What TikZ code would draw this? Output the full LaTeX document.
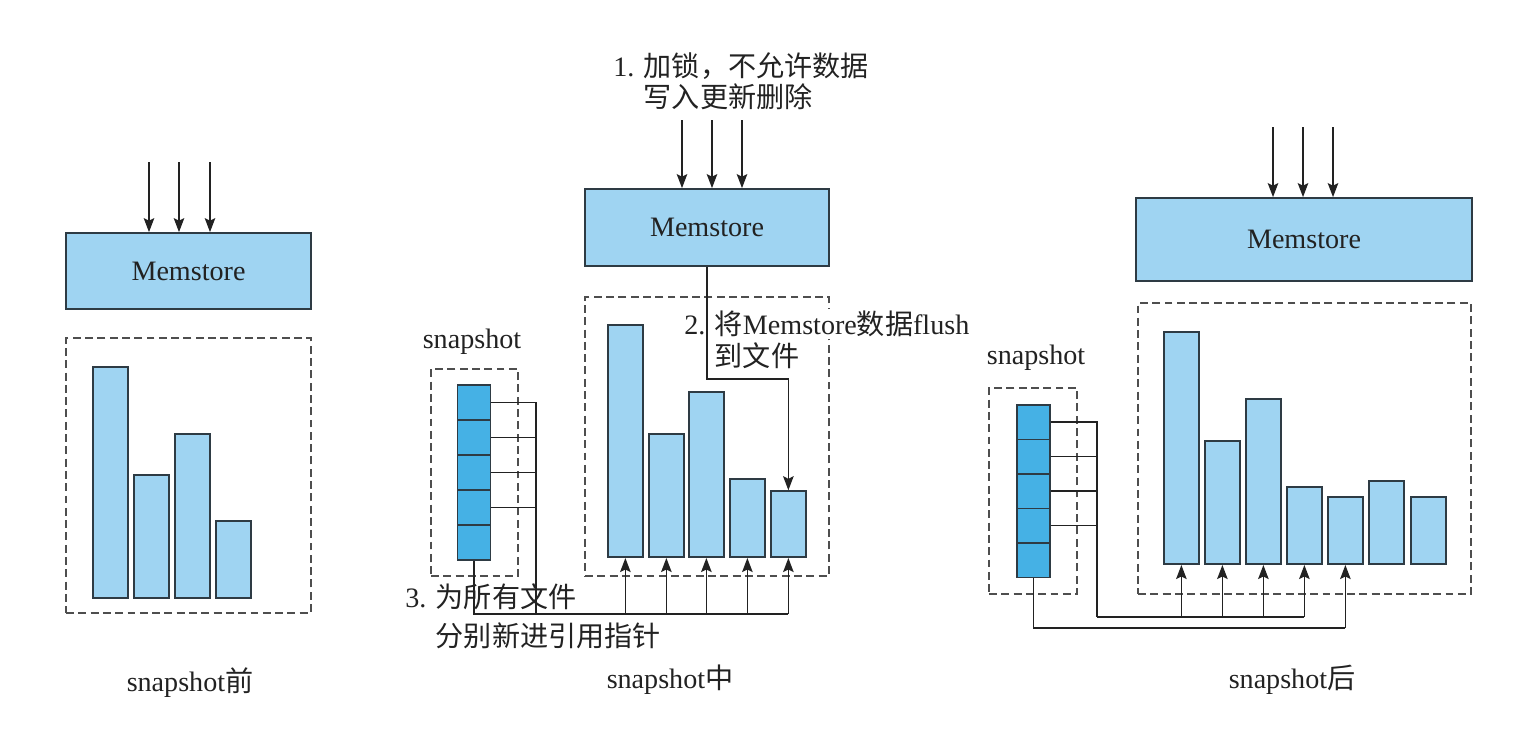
\documentclass[tikz,border=0pt]{standalone}
\usepackage{fontspec}
\setmainfont{Liberation Serif}
\newfontfamily\cjk{Noto Sans CJK SC}
\usetikzlibrary{arrows.meta,positioning}
\definecolor{pale}{HTML}{9FD4F2}
\definecolor{deep}{HTML}{45B1E5}
\definecolor{edge}{HTML}{2E3B44}
\definecolor{ink}{HTML}{222222}

\begin{document}
\begin{tikzpicture}[x=0.02cm,y=-0.02cm]
	\tikzstyle{memstore}=[draw=edge,fill=pale,line width=1pt,inner sep=0pt,font=\fontsize{16}{19}\selectfont,text=ink]
	\tikzstyle{bar}=[draw=edge,fill=pale,line width=1pt,inner sep=0pt,anchor=south west,minimum width=0.7cm]
	\tikzstyle{cell}=[draw=edge,fill=deep,line width=1pt,inner sep=0pt,anchor=north,minimum width=0.66cm,minimum height=0.7cm]
	\tikzstyle{dashbox}=[draw=ink!80,line width=0.9pt,dash pattern=on 4.5pt off 2.5pt,inner sep=0pt]
	\tikzstyle{feed}=[line width=0.9pt,draw=ink,-{Stealth[length=8pt,width=6pt,inset=1.5pt]}]
	\tikzstyle{link}=[line width=0.9pt,draw=ink]
	\tikzstyle{note}=[font=\fontsize{16}{18}\selectfont,text=ink,inner sep=0pt,align=left]

	\useasboundingbox (0,0) rectangle (1524,738);

	% snapshot before
	\node[memstore,minimum width=4.9cm,minimum height=1.52cm] (memL) at (188.5,271) {Memstore};
	\coordinate (inL1) at (149,162);
	\coordinate (inL2) at (179,162);
	\coordinate (inL3) at (210,162);
	\draw[feed] (inL1) -- (inL1 |- memL.north);
	\draw[feed] (inL2) -- (inL2 |- memL.north);
	\draw[feed] (inL3) -- (inL3 |- memL.north);
	\node[dashbox,minimum width=4.9cm,minimum height=5.5cm] (boxL) at (188.5,475.5) {};
	\node[bar,minimum height=4.62cm] (bL1) at (92,599) {};
	\node[bar,minimum height=2.46cm] (bL2) at (133,599) {};
	\node[bar,minimum height=3.28cm] (bL3) at (174,599) {};
	\node[bar,minimum height=1.54cm] (bL4) at (215,599) {};
	\node[note] (capL) at (190,683) {snapshot{\cjk 前}};

	% snapshot in progress
	\node[note,anchor=west,font=\fontsize{16}{17.5}\selectfont] (stepA) at (613,81) {1. {\cjk 加锁，不允许数据}\\\hphantom{1. }{\cjk 写入更新删除}};
	\node[memstore,minimum width=4.88cm,minimum height=1.54cm] (memM) at (707,227.5) {Memstore};
	\coordinate (inM1) at (682,120);
	\coordinate (inM2) at (712,120);
	\coordinate (inM3) at (742,120);
	\draw[feed] (inM1) -- (inM1 |- memM.north);
	\draw[feed] (inM2) -- (inM2 |- memM.north);
	\draw[feed] (inM3) -- (inM3 |- memM.north);
	\node[dashbox,minimum width=4.88cm,minimum height=5.58cm] (boxM) at (707,436.5) {};
	\node[bar,minimum height=4.64cm] (bM1) at (607,558) {};
	\node[bar,minimum height=2.46cm] (bM2) at (648,558) {};
	\node[bar,minimum height=3.30cm] (bM3) at (688,558) {};
	\node[bar,minimum height=1.56cm] (bM4) at (729,558) {};
	\node[bar,minimum height=1.32cm] (bM5) at (770,558) {};
	\node[note,anchor=west,fill=white,inner ysep=1pt] (flushA) at (684,324) {2. {\cjk 将}Memstore{\cjk 数据}flush};
	\node[note,anchor=west] (flushB) at (684,356) {\hphantom{2. }{\cjk 到文件}};
	\coordinate (bendM) at (707,379);
	\draw[feed] (memM.south) |- (bM5.north |- bendM) -- (bM5.north);

	\node[note] (snapM) at (472,342) {snapshot};
	\node[dashbox,minimum width=1.74cm,minimum height=4.14cm] (sboxM) at (474.5,472.5) {};
	\node[cell] (cM1) at (474,384) {};
	\node[cell] (cM2) at (474,419) {};
	\node[cell] (cM3) at (474,454) {};
	\node[cell] (cM4) at (474,489) {};
	\node[cell] (cM5) at (474,524) {};
	\coordinate (trunkM) at (536,614);
	\draw[link] (cM1.east) -| (trunkM);
	\draw[link] (cM2.east) -- (cM2.east -| trunkM);
	\draw[link] (cM3.east) -- (cM3.east -| trunkM);
	\draw[link] (cM4.east) -- (cM4.east -| trunkM);
	\draw[link] (cM5.south) |- (bM5.south |- trunkM);
	\draw[feed] (bM1.south |- trunkM) -- (bM1.south);
	\draw[feed] (bM2.south |- trunkM) -- (bM2.south);
	\draw[feed] (bM3.south |- trunkM) -- (bM3.south);
	\draw[feed] (bM4.south |- trunkM) -- (bM4.south);
	\draw[feed] (bM5.south |- trunkM) -- (bM5.south);
	\node[note,anchor=west,font=\fontsize{16}{22}\selectfont] (stepC) at (405,616) {3. {\cjk 为所有文件}\\\hphantom{3. }{\cjk 分别新进引用指针}};
	\node[note] (capM) at (670,680) {snapshot{\cjk 中}};

	% snapshot after
	\node[memstore,minimum width=6.72cm,minimum height=1.66cm] (memR) at (1304,239.5) {Memstore};
	\coordinate (inR1) at (1273,127);
	\coordinate (inR2) at (1303,127);
	\coordinate (inR3) at (1333,127);
	\draw[feed] (inR1) -- (inR1 |- memR.north);
	\draw[feed] (inR2) -- (inR2 |- memR.north);
	\draw[feed] (inR3) -- (inR3 |- memR.north);
	\node[dashbox,minimum width=6.66cm,minimum height=5.82cm] (boxR) at (1304.5,448.5) {};
	\node[bar,minimum height=4.64cm] (bR1) at (1163,565) {};
	\node[bar,minimum height=2.46cm] (bR2) at (1204,565) {};
	\node[bar,minimum height=3.30cm] (bR3) at (1245,565) {};
	\node[bar,minimum height=1.54cm] (bR4) at (1286,565) {};
	\node[bar,minimum height=1.34cm] (bR5) at (1327,565) {};
	\node[bar,minimum height=1.66cm] (bR6) at (1368,565) {};
	\node[bar,minimum height=1.34cm] (bR7) at (1410,565) {};

	\node[note] (snapR) at (1036,358) {snapshot};
	\node[dashbox,minimum width=1.76cm,minimum height=4.12cm] (sboxR) at (1033,491) {};
	\node[cell,minimum height=0.69cm] (cR1) at (1033.5,404) {};
	\node[cell,minimum height=0.69cm] (cR2) at (1033.5,438.5) {};
	\node[cell,minimum height=0.69cm] (cR3) at (1033.5,473) {};
	\node[cell,minimum height=0.69cm] (cR4) at (1033.5,507.5) {};
	\node[cell,minimum height=0.69cm] (cR5) at (1033.5,542) {};
	\coordinate (trunkR) at (1097,617);
	\coordinate (loopR) at (1033.5,628);
	\draw[link] (cR1.east) -| (trunkR);
	\draw[link] (cR2.east) -- (cR2.east -| trunkR);
	\draw[link] (cR3.east) -- (cR3.east -| trunkR);
	\draw[link] (cR4.east) -- (cR4.east -| trunkR);
	\draw[link] (trunkR) -- (bR4.south |- trunkR);
	\draw[link] (cR5.south) |- (bR5.south |- loopR);
	\draw[feed] (bR1.south |- trunkR) -- (bR1.south);
	\draw[feed] (bR2.south |- trunkR) -- (bR2.south);
	\draw[feed] (bR3.south |- trunkR) -- (bR3.south);
	\draw[feed] (bR4.south |- trunkR) -- (bR4.south);
	\draw[feed] (bR5.south |- loopR) -- (bR5.south);
	\node[note] (capR) at (1292,680) {snapshot{\cjk 后}};
\end{tikzpicture}
\end{document}
